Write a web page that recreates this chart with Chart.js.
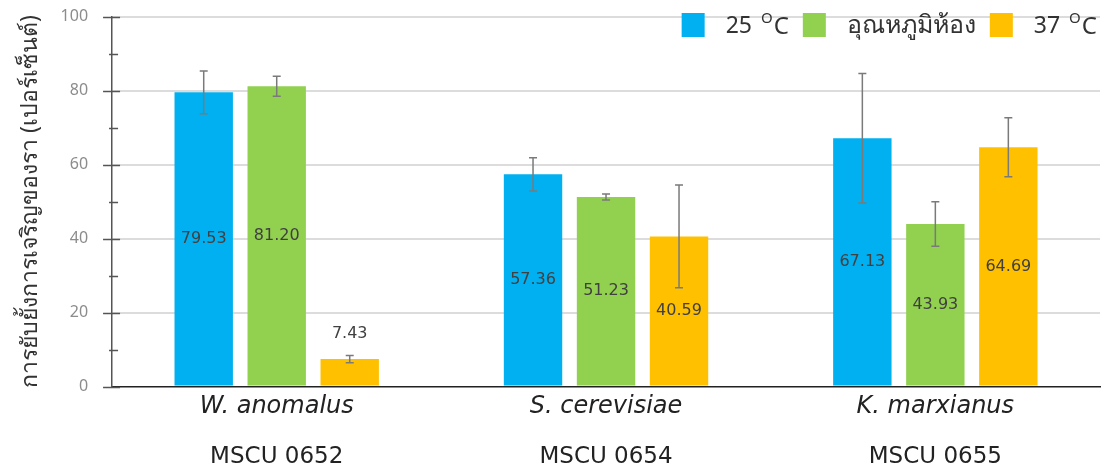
<!DOCTYPE html>
<html>
<head>
<meta charset="utf-8">
<script src="https://cdn.jsdelivr.net/npm/chart.js@4"></script>
<style>
  html, body { margin: 0; padding: 0; background: #fff; }
  #wrap { width: 1106px; height: 472px; }
</style>
</head>
<body>
<div id="wrap"><canvas id="inhibitChart"></canvas></div>
<script>
const species = ['W. anomalus', 'S. cerevisiae', 'K. marxianus'];
const strains = ['MSCU 0652', 'MSCU 0654', 'MSCU 0655'];
const seriesNames = ['25 ᴼC', 'อุณหภูมิห้อง', '37 ᴼC'];
const temp25 = [79.53, 57.36, 67.13];
const temp25Err = [5.8, 4.5, 17.5];
const roomTemp = [81.20, 51.23, 43.93];
const roomTempErr = [2.7, 0.8, 6.0];
const temp37 = [7.43, 40.59, 64.69];
const temp37Err = [1.0, 13.9, 8.0];
const yTicks = [0, 20, 40, 60, 80, 100];

const FONT = "'Noto Sans', 'DejaVu Sans', sans-serif";
const WIDE = "'DejaVu Sans', 'Noto Sans', sans-serif";
const errors = [temp25Err, roomTempErr, temp37Err];

// error bars + value labels, positioned with the chart's own scales
const barExtras = {
  id: 'barExtras',
  afterDatasetsDraw(chart) {
    const ctx = chart.ctx;
    const y = chart.scales.y;
    chart.data.datasets.forEach((ds, di) => {
      const meta = chart.getDatasetMeta(di);
      meta.data.forEach((bar, i) => {
        const v = ds.data[i];
        const e = errors[di][i];
        const yTop = y.getPixelForValue(v + e);
        const yBot = y.getPixelForValue(v - e);
        ctx.save();
        ctx.strokeStyle = '#7a7a7a';
        ctx.lineWidth = 1.5;
        ctx.beginPath();
        ctx.moveTo(bar.x, yTop); ctx.lineTo(bar.x, yBot);
        ctx.moveTo(bar.x - 4, yTop); ctx.lineTo(bar.x + 4, yTop);
        ctx.moveTo(bar.x - 4, yBot); ctx.lineTo(bar.x + 4, yBot);
        ctx.stroke();

        ctx.fillStyle = '#404040';
        ctx.font = '16px ' + WIDE;
        ctx.textAlign = 'center';
        ctx.textBaseline = 'middle';
        let ly = (bar.y + bar.base) / 2;
        if (bar.base - bar.y < 40) ly = yTop - 22;
        ctx.fillText(v.toFixed(2), bar.x, ly);
        ctx.restore();
      });
    });
  }
};

// tick marks crossing the y axis: long at 20s, short at 10s
const axisTicks = {
  id: 'axisTicks',
  afterDraw(chart) {
    const ctx = chart.ctx;
    const y = chart.scales.y;
    const x0 = y.right;
    ctx.save();
    ctx.strokeStyle = '#555';
    ctx.lineWidth = 1.5;
    ctx.beginPath();
    for (let t = 0; t <= 100; t += 10) {
      const py = Math.round(y.getPixelForValue(t)) + 0.5;
      const major = t % 20 === 0;
      ctx.moveTo(x0 - (major ? 9 : 3), py);
      ctx.lineTo(x0 + (major ? 8 : 6), py);
    }
    ctx.stroke();
    ctx.restore();
  }
};

// legend label; "ᴼ" is drawn as a small raised capital O
function drawLabel(ctx, text, x, cy, measureOnly) {
  const parts = text.split('ᴼ');
  if (parts.length === 1) {
    ctx.font = '25px ' + FONT;
    if (!measureOnly) ctx.fillText(text, x, cy);
    return ctx.measureText(text).width;
  }
  let w = 0;
  ctx.font = '23px ' + FONT;
  if (!measureOnly) ctx.fillText(parts[0], x, cy);
  w += ctx.measureText(parts[0]).width + 3;
  ctx.font = '15px ' + FONT;
  if (!measureOnly) ctx.fillText('O', x + w, cy - 7);
  w += ctx.measureText('O').width + 1;
  ctx.font = '24px ' + FONT;
  if (!measureOnly) ctx.fillText(parts[1], x + w, cy + 1);
  w += ctx.measureText(parts[1]).width;
  return w;
}

// legend sitting inside the plot, top-right, over the 100 gridline
const insideLegend = {
  id: 'insideLegend',
  afterDraw(chart) {
    const ctx = chart.ctx;
    const right = 1097;
    const top = 13, box = 23, boxH = 24, gapText = 21, gapItem = 14;
    ctx.save();
    ctx.textBaseline = 'middle';
    ctx.textAlign = 'left';
    const items = chart.data.datasets.map(ds => ({
      text: ds.label, color: ds.backgroundColor, w: drawLabel(ctx, ds.label, 0, 0, true)
    }));
    let total = 0;
    items.forEach((it, i) => { total += box + gapText + it.w + (i ? gapItem : 0); });
    let x = right - total;
    items.forEach(it => {
      ctx.fillStyle = it.color;
      ctx.fillRect(x, top, box, boxH);
      ctx.fillStyle = '#333';
      drawLabel(ctx, it.text, x + box + gapText, top + boxH / 2 + 1, false);
      x += box + gapText + it.w + gapItem;
    });
    ctx.restore();
  }
};

new Chart(document.getElementById('inhibitChart'), {
  type: 'bar',
  data: {
    labels: species,
    datasets: [
      { label: seriesNames[0], data: temp25, backgroundColor: '#00B0F0' },
      { label: seriesNames[1], data: roomTemp, backgroundColor: '#92D050' },
      { label: seriesNames[2], data: temp37, backgroundColor: '#FFC000' }
    ]
  },
  options: {
    responsive: true,
    maintainAspectRatio: false,
    animation: false,
    categoryPercentage: 0.665,
    barPercentage: 0.8,
    layout: { padding: { top: 10, right: 6, left: 0, bottom: -15 } },
    plugins: {
      legend: { display: false },
      tooltip: { enabled: false }
    },
    scales: {
      x: {
        grid: { display: false, drawTicks: false },
        border: { color: '#222', width: 1.5 },
        ticks: {
          color: '#222',
          padding: 6,
          font: { family: WIDE, size: 24, style: 'italic' }
        }
      },
      x2: {
        type: 'category',
        labels: strains,
        position: 'bottom',
        grid: { display: false, drawTicks: false },
        border: { display: false },
        ticks: {
          color: '#222',
          padding: 16,
          font: { family: WIDE, size: 23 }
        }
      },
      y: {
        min: 0,
        max: 100,
        afterBuildTicks(axis) {
          axis.ticks = [];
          for (let t = 0; t <= 100; t += 10) axis.ticks.push({ value: t });
        },
        grid: {
          color: c => (yTicks.includes(c.tick.value) && c.tick.value > 0) ? '#dcdcdc' : 'rgba(0,0,0,0)',
          tickColor: 'rgba(0,0,0,0)',
          tickLength: 17,
          lineWidth: 2
        },
        border: { color: '#555', width: 1.5 },
        ticks: {
          color: '#8c8c8c',
          padding: 7,
          font: { family: FONT, size: 16 },
          callback: v => yTicks.includes(v) ? v : ''
        },
        title: {
          display: true,
          text: 'การยับยั้งการเจริญของรา (เปอร์เซ็นต์)',
          color: '#333',
          padding: { top: 17, bottom: 9 },
          font: { family: FONT, size: 23 }
        }
      }
    }
  },
  plugins: [barExtras, axisTicks, insideLegend]
});
</script>
</body>
</html>
